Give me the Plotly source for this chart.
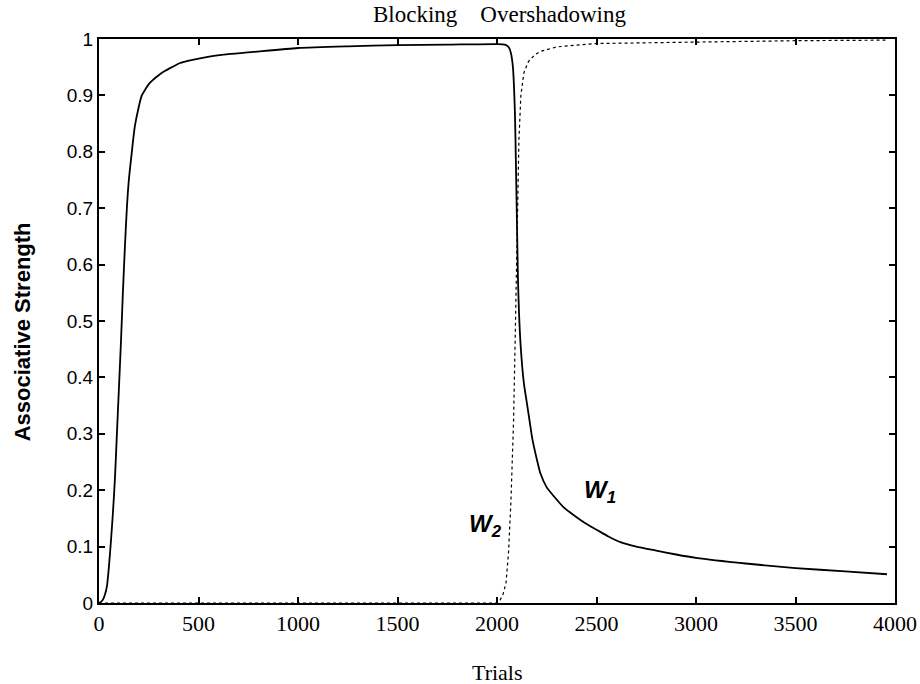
import plotly.graph_objects as go

# ---- data ----
w1_trials = [0, 10, 20, 30, 40, 50, 60, 70, 80, 90, 100, 110, 120, 130, 140, 150, 165, 180,
             200, 215, 235, 250, 270, 290, 320, 350, 405, 470, 540, 650, 775, 1000, 1250, 1500,
             1750, 2000, 2040, 2060, 2070, 2080, 2090, 2095, 2100, 2105, 2110, 2120, 2135, 2150,
             2165, 2178, 2200, 2218, 2250, 2284, 2334, 2400, 2450, 2500, 2560, 2620, 2700, 2800,
             2900, 3000, 3250, 3500, 3750, 3960]
w1_values = [0.0, 0.002, 0.006, 0.015, 0.03, 0.065, 0.11, 0.16, 0.22, 0.30, 0.38, 0.46, 0.55,
             0.63, 0.70, 0.75, 0.80, 0.845, 0.88, 0.90, 0.912, 0.92, 0.927, 0.933, 0.941, 0.947,
             0.957, 0.963, 0.968, 0.973, 0.977, 0.984, 0.987, 0.989, 0.990, 0.991, 0.990, 0.985,
             0.975, 0.95, 0.87, 0.78, 0.68, 0.58, 0.52, 0.45, 0.39, 0.355, 0.32, 0.29, 0.255,
             0.23, 0.205, 0.19, 0.17, 0.152, 0.14, 0.13, 0.118, 0.108, 0.10, 0.093, 0.086, 0.08,
             0.07, 0.062, 0.056, 0.051]

w2_trials = [0, 1000, 2000, 2015, 2030, 2045, 2058, 2070, 2083, 2092, 2098, 2104, 2110, 2120,
             2135, 2158, 2190, 2218, 2300, 2500, 3000, 3500, 3960]
w2_values = [0.0, 0.0, 0.0, 0.005, 0.015, 0.035, 0.09, 0.18, 0.32, 0.48, 0.60, 0.72, 0.82,
             0.90, 0.94, 0.96, 0.972, 0.978, 0.986, 0.992, 0.995, 0.997, 0.998]

x_ticks = [0, 500, 1000, 1500, 2000, 2500, 3000, 3500, 4000]
y_ticks = [0, 0.1, 0.2, 0.3, 0.4, 0.5, 0.6, 0.7, 0.8, 0.9, 1.0]
y_tick_text = ["0", "0.1", "0.2", "0.3", "0.4", "0.5", "0.6", "0.7", "0.8", "0.9", "1"]

title_text = "Blocking\u00a0\u00a0\u00a0\u00a0Overshadowing"
x_title = "Trials"
y_title = "Associative Strength"

SERIF = "Liberation Serif, Times New Roman, serif"
SANS = "Liberation Sans, Arial, sans-serif"

fig = go.Figure()
fig.add_trace(go.Scatter(x=w1_trials, y=w1_values, mode="lines", name="W1",
                         line=dict(color="black", width=1.8, shape="spline", smoothing=0.6),
                         showlegend=False))
fig.add_trace(go.Scatter(x=w2_trials, y=w2_values, mode="lines", name="W2",
                         line=dict(color="black", width=1.2, dash="3px,3px"), showlegend=False))

axis_common = dict(showline=True, linecolor="black", linewidth=2, mirror="ticks",
                   ticks="inside", ticklen=6, tickwidth=1.5, tickcolor="black",
                   showgrid=False, zeroline=False, automargin=False)

fig.update_xaxes(range=[0, 4000], tickvals=x_ticks, ticktext=[str(v) for v in x_ticks],
                 tickfont=dict(family=SERIF, size=22, color="black"), **axis_common)
fig.update_yaxes(range=[0, 1], tickvals=y_ticks, ticktext=y_tick_text,
                 tickfont=dict(family=SANS, size=19, color="black"), **axis_common)

annotations = [
    dict(text=title_text, xref="paper", yref="paper", x=0.503, y=1.0426, showarrow=False,
         font=dict(family=SERIF, size=23, color="black"), xanchor="center", yanchor="middle"),
    dict(text=x_title, xref="paper", yref="paper", x=0.5, y=-0.124, showarrow=False,
         font=dict(family=SERIF, size=22, color="black"), xanchor="center", yanchor="middle"),
    dict(text=y_title, xref="paper", yref="paper", x=-0.0967, y=0.48, showarrow=False,
         textangle=-90, font=dict(family=SANS, size=22, color="black", weight="bold"),
         xanchor="center", yanchor="middle"),
    dict(text="<b><i>W</i></b><sub><b><i>2</i></b></sub>", x=1942, y=0.138, xref="x", yref="y",
         showarrow=False, font=dict(family=SANS, size=24, color="black"),
         xanchor="center", yanchor="middle"),
    dict(text="<b><i>W</i></b><sub><b><i>1</i></b></sub>", x=2520, y=0.197, xref="x", yref="y",
         showarrow=False, font=dict(family=SANS, size=24, color="black"),
         xanchor="center", yanchor="middle"),
]

fig.update_layout(width=920, height=684, margin=dict(l=99, r=25, t=39, b=81),
                  plot_bgcolor="white", paper_bgcolor="white", annotations=annotations)

fig.write_html("out.html")
